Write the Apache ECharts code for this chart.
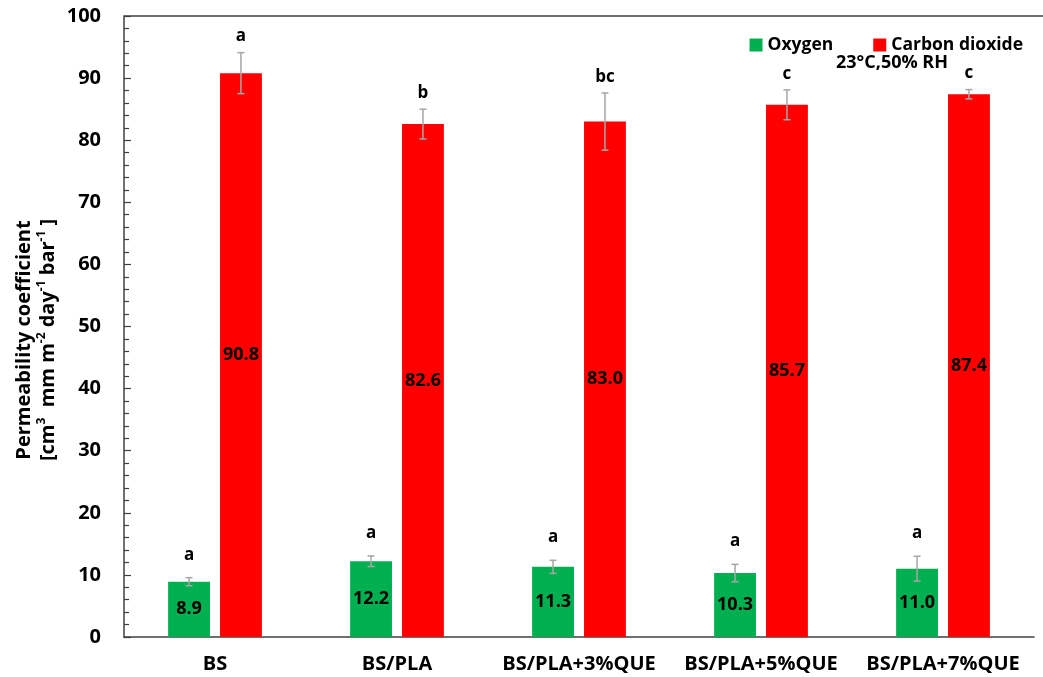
<!DOCTYPE html>
<html>
<head>
<meta charset="utf-8">
<script src="https://cdn.jsdelivr.net/npm/echarts@6/dist/echarts.min.js"></script>
<style>
  html, body { margin: 0; padding: 0; background: #ffffff; }
  #chart { width: 1043px; height: 677px; }
</style>
</head>
<body>
<div id="chart"></div>
<script>
// Film samples and their gas permeability (mean ± SD)
const categories = ['BS', 'BS/PLA', 'BS/PLA+3%QUE', 'BS/PLA+5%QUE', 'BS/PLA+7%QUE'];
const oxygen = [8.9, 12.2, 11.3, 10.3, 11.0];
const oxygenErr = [0.65, 0.85, 1.05, 1.4, 2.0];
const co2 = [90.8, 82.6, 83.0, 85.7, 87.4];
const co2Err = [3.3, 2.4, 4.6, 2.4, 0.75];
// Significance letters shown above each bar
const oxygenLetters = ['a', 'a', 'a', 'a', 'a'];
const co2Letters = ['a', 'b', 'bc', 'c', 'c'];
const yTicks = [0, 10, 20, 30, 40, 50, 60, 70, 80, 90, 100];

const FONT = '"Open Sans"';
const BAR_W = 0.23;   // bar width as a share of the category band
const BAR_GAP = 0.24; // gap between paired bars as a share of bar width
const GREEN = '#00b050';
const RED = '#ff0000';

const chart = echarts.init(document.getElementById('chart'));

// Error bar + significance letter for one of the two bars in a category
function errorRenderer(side, letters, letterGap) {
  return function (params, api) {
    const idx = api.value(0);
    const v = api.value(1);
    const e = api.value(2);
    const band = api.size([1, 0])[0];
    const bw = band * BAR_W;
    const off = side * bw * (1 + BAR_GAP) / 2;
    const x = api.coord([idx, v])[0] + off;
    const yTop = api.coord([idx, v + e])[1];
    const yBot = api.coord([idx, v - e])[1];
    const cap = 3.5;
    const stroke = { stroke: '#a6a6a6', lineWidth: 1.5 };
    return {
      type: 'group',
      children: [
        { type: 'line', shape: { x1: x, y1: yTop, x2: x, y2: yBot }, style: stroke },
        { type: 'line', shape: { x1: x - cap, y1: yTop, x2: x + cap, y2: yTop }, style: stroke },
        { type: 'line', shape: { x1: x - cap, y1: yBot, x2: x + cap, y2: yBot }, style: stroke },
        {
          type: 'text',
          x: x, y: yTop - letterGap,
          style: {
            text: letters[params.dataIndex],
            fill: '#000', font: 'bold 17px ' + FONT,
            align: 'center', verticalAlign: 'middle'
          }
        }
      ]
    };
  };
}

const barLabel = {
  show: true,
  position: 'inside',
  color: '#000',
  fontFamily: FONT,
  fontWeight: 'bold',
  fontSize: 18,
  formatter: p => p.value.toFixed(1)
};

chart.setOption({
  animation: false,
  backgroundColor: '#ffffff',
  grid: { left: 124, right: 9, top: 16, bottom: 40, containLabel: false },
  legend: {
    right: 15, top: 31,
    orient: 'horizontal',
    icon: 'rect', itemWidth: 13, itemHeight: 13, itemGap: 40,
    textStyle: { fontFamily: FONT, fontWeight: 'bold', fontSize: 17.5, color: '#000' },
    data: ['Oxygen', 'Carbon dioxide']
  },
  xAxis: {
    type: 'category',
    data: categories,
    axisLine: { lineStyle: { color: '#404040', width: 1.5 } },
    axisTick: { show: false },
    axisLabel: { interval: 0, color: '#000', fontFamily: FONT, fontWeight: 'bold', fontSize: 20, margin: 17 },
    splitLine: { show: false }
  },
  yAxis: {
    type: 'value',
    min: yTicks[0], max: yTicks[yTicks.length - 1], interval: 10,
    axisLine: { show: true, lineStyle: { color: '#404040', width: 1.5 } },
    axisTick: { show: true, inside: true, length: 7, lineStyle: { color: '#404040', width: 1.2 } },
    minorTick: { show: true, splitNumber: 5, length: 5, lineStyle: { color: '#404040', width: 1.2 } },
    axisLabel: { color: '#000', fontFamily: FONT, fontWeight: 'bold', fontSize: 20, margin: 23 },
    splitLine: { show: false }
  },
  graphic: [
    {
      type: 'line', z: 10,
      shape: { x1: 124, y1: 16, x2: 1043, y2: 16 },
      style: { stroke: '#404040', lineWidth: 1.5 }
    },
    {
      type: 'text',
      x: 892, y: 63,
      style: {
        text: '23°C,50% RH', fill: '#000', font: 'bold 18px ' + FONT,
        align: 'center', verticalAlign: 'middle'
      }
    },
    {
      type: 'text',
      x: 36, y: 340,
      rotation: Math.PI / 2,
      style: {
        text: '{t|Permeability coefficient}\n{t|[cm}{s|3}{t|  mm m}{s|-2}{t| day}{s|-1}{t| bar}{s|-1}{t| ]}',
        align: 'center', verticalAlign: 'middle',
        rich: {
          t: { fontFamily: FONT, fontWeight: 'bold', fontSize: 20, lineHeight: 24, color: '#000' },
          s: { fontFamily: FONT, fontWeight: 'bold', fontSize: 12, lineHeight: 15, color: '#000', verticalAlign: 'top' }
        }
      }
    }
  ],
  series: [
    {
      name: 'Oxygen', type: 'bar',
      data: oxygen,
      barWidth: (BAR_W * 100) + '%',
      barGap: (BAR_GAP * 100) + '%',
      itemStyle: { color: GREEN },
      label: barLabel
    },
    {
      name: 'Carbon dioxide', type: 'bar',
      data: co2,
      barWidth: (BAR_W * 100) + '%',
      barGap: (BAR_GAP * 100) + '%',
      itemStyle: { color: RED },
      label: barLabel
    },
    {
      type: 'custom', z: 5, silent: true, clip: false,
      renderItem: errorRenderer(-1, oxygenLetters, 23),
      data: oxygen.map((v, i) => [i, v, oxygenErr[i]]),
      encode: { x: 0, y: 1 }
    },
    {
      type: 'custom', z: 5, silent: true, clip: false,
      renderItem: errorRenderer(1, co2Letters, 16),
      data: co2.map((v, i) => [i, v, co2Err[i]]),
      encode: { x: 0, y: 1 }
    }
  ]
});
</script>
</body>
</html>
